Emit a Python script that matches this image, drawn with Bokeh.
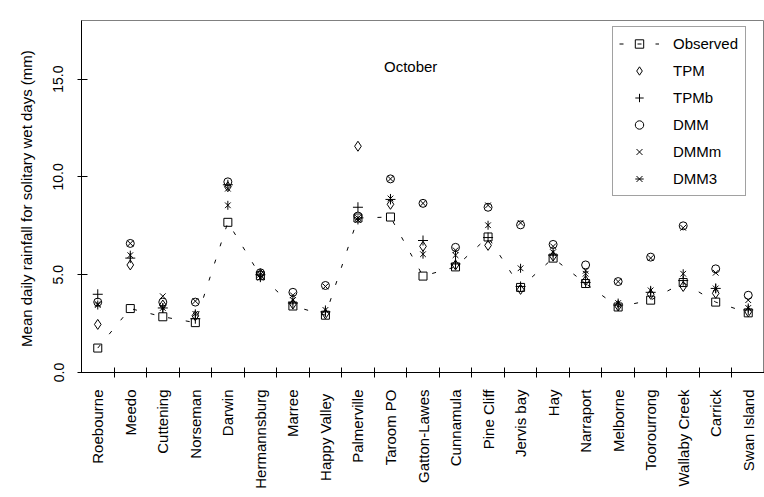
from math import pi
from bokeh.plotting import figure
from bokeh.models import Range1d, FixedTicker, Label, Legend, LegendItem
from bokeh.embed import file_html
from bokeh.resources import INLINE

stations = ["Roebourne", "Meedo", "Cuttening", "Norseman", "Darwin", "Hermannsburg",
            "Marree", "Happy  Valley", "Palmerville", "Taroom PO", "Gatton-Lawes",
            "Cunnamula", "Pine Cliff", "Jervis bay", "Hay", "Narraport", "Melborne",
            "Toorourrong", "Wallaby Creek", "Carrick", "Swan Island"]

observed = [1.25, 3.27, 2.85, 2.55, 7.68, 4.95, 3.4, 2.93, 7.9, 7.95, 4.93,
            5.4, 6.93, 4.35, 5.85, 4.55, 3.35, 3.7, 4.6, 3.6, 3.05]
tpm = [2.46, 5.5, 3.45, 2.9, 9.5, 5.05, 3.5, 3.0, 11.57, 8.6, 6.45,
       5.5, 6.5, 4.25, 5.95, 4.7, 3.4, 4.0, 4.4, 4.05, 3.1]
tpmb = [4.0, 5.85, 3.3, 2.75, 9.6, 5.0, 3.55, 3.1, 8.45, 8.85, 6.75,
        5.55, 6.9, 4.4, 6.0, 4.6, 3.45, 4.1, 4.7, 4.3, 3.2]
dmm = [3.6, 6.6, 3.6, 3.6, 9.75, 5.1, 4.1, 4.45, 8.0, 9.9, 8.65,
       6.4, 8.45, 7.55, 6.55, 5.5, 4.65, 5.9, 7.5, 5.3, 3.95]
dmmm = [3.5, 6.6, 3.9, 3.65, 9.4, 5.0, 3.95, 4.4, 7.9, 9.9, 8.65,
        6.25, 8.55, 7.65, 6.45, 5.2, 4.65, 5.85, 7.4, 5.1, 3.7]
dmm3 = [3.45, 6.0, 3.3, 3.0, 8.55, 4.85, 3.7, 3.2, 7.8, 8.9, 6.05,
        6.0, 7.53, 5.33, 6.15, 5.05, 3.55, 4.2, 5.05, 4.3, 3.3]

y_ticks = [0, 5, 10, 15]
y_tick_labels = ["0.0", "5.0", "10.0", "15.0"]

n = len(stations)
xc = [i + 0.5 for i in range(n)]
FONT = "Liberation Sans"

p = figure(width=764, height=497, output_backend="svg", toolbar_location=None,
           x_range=Range1d(0, n), y_range=Range1d(0, 18),
           min_border_left=81, min_border_right=0, min_border_top=20, min_border_bottom=125)
p.xgrid.visible = False
p.ygrid.visible = False
p.outline_line_color = "#808080"
p.background_fill_color = "white"
p.border_fill_color = "white"

# x axis: labels at category centres, tick marks at category boundaries
p.xaxis.ticker = FixedTicker(ticks=xc, minor_ticks=list(range(1, n)))
p.xaxis.major_label_overrides = {x: s for x, s in zip(xc, stations)}
p.xaxis.major_label_orientation = pi / 2
p.xaxis.major_tick_in = 0
p.xaxis.major_tick_out = 0
p.xaxis.minor_tick_in = 5
p.xaxis.minor_tick_out = 5
p.xaxis.minor_tick_line_color = "black"
p.xaxis.axis_line_color = "black"
p.xaxis.major_label_standoff = 12
p.xaxis.major_label_text_font = FONT
p.xaxis.major_label_text_font_size = "15px"
p.xaxis.major_label_text_color = "black"

p.yaxis.ticker = FixedTicker(ticks=y_ticks, minor_ticks=[])
p.yaxis.major_label_overrides = {t: s for t, s in zip(y_ticks, y_tick_labels)}
p.yaxis.major_label_orientation = "vertical"
p.yaxis.major_tick_in = 6
p.yaxis.major_tick_out = 4
p.yaxis.major_label_standoff = 14
p.yaxis.major_label_text_font = FONT
p.yaxis.major_label_text_font_size = "14px"
p.yaxis.major_label_text_color = "black"
p.yaxis.axis_label = "Mean daily rainfall for solitary wet days  (mm)"
p.yaxis.axis_label_text_font = FONT
p.yaxis.axis_label_text_font_size = "15px"
p.yaxis.axis_label_text_font_style = "normal"
p.yaxis.axis_label_standoff = 16
p.yaxis.axis_label_text_color = "black"
p.yaxis.axis_line_color = "black"

obs_line = p.line(xc, observed, line_color="black", line_width=1, line_dash="4 14")
obs_pts = p.scatter(xc, observed, marker="square", size=8, fill_color=None,
                    line_color="black", line_width=1)
tpm_r = p.scatter(xc, tpm, marker="diamond", size=10, fill_color=None,
                  line_color="black", line_width=1)
tpmb_r = p.scatter(xc, tpmb, marker="cross", size=10, line_color="black", line_width=1)
dmm_r = p.scatter(xc, dmm, marker="circle", size=8, fill_color=None,
                  line_color="black", line_width=1)
dmmm_r = p.scatter(xc, dmmm, marker="x", size=8, line_color="black", line_width=1)
dmm3_x = p.scatter(xc, dmm3, marker="x", size=8, line_color="black", line_width=1)
dmm3_v = p.scatter(xc, dmm3, marker="dash", size=9, angle=pi / 2,
                   line_color="black", line_width=1)

legend = Legend(items=[
    LegendItem(label="Observed", renderers=[obs_line, obs_pts]),
    LegendItem(label="TPM", renderers=[tpm_r]),
    LegendItem(label="TPMb", renderers=[tpmb_r]),
    LegendItem(label="DMM", renderers=[dmm_r]),
    LegendItem(label="DMMm", renderers=[dmmm_r]),
    LegendItem(label="DMM3", renderers=[dmm3_x, dmm3_v]),
], location=(531, 176))
legend.border_line_color = "#444444"
legend.border_line_width = 1
legend.background_fill_color = "white"
legend.background_fill_alpha = 1
legend.label_text_font = FONT
legend.label_text_font_size = "15px"
legend.label_text_color = "black"
legend.glyph_width = 40
legend.glyph_height = 21
legend.label_height = 21
legend.label_width = 66
legend.label_standoff = 14
legend.spacing = 6
legend.padding = 6
legend.margin = 0
p.add_layout(legend)

title = Label(x=10.12, y=15.67, text="October", text_align="center",
              text_baseline="middle", text_font=FONT, text_font_size="15px",
              text_color="black")
p.add_layout(title)

open("out.html", "w").write(file_html(p, INLINE))
